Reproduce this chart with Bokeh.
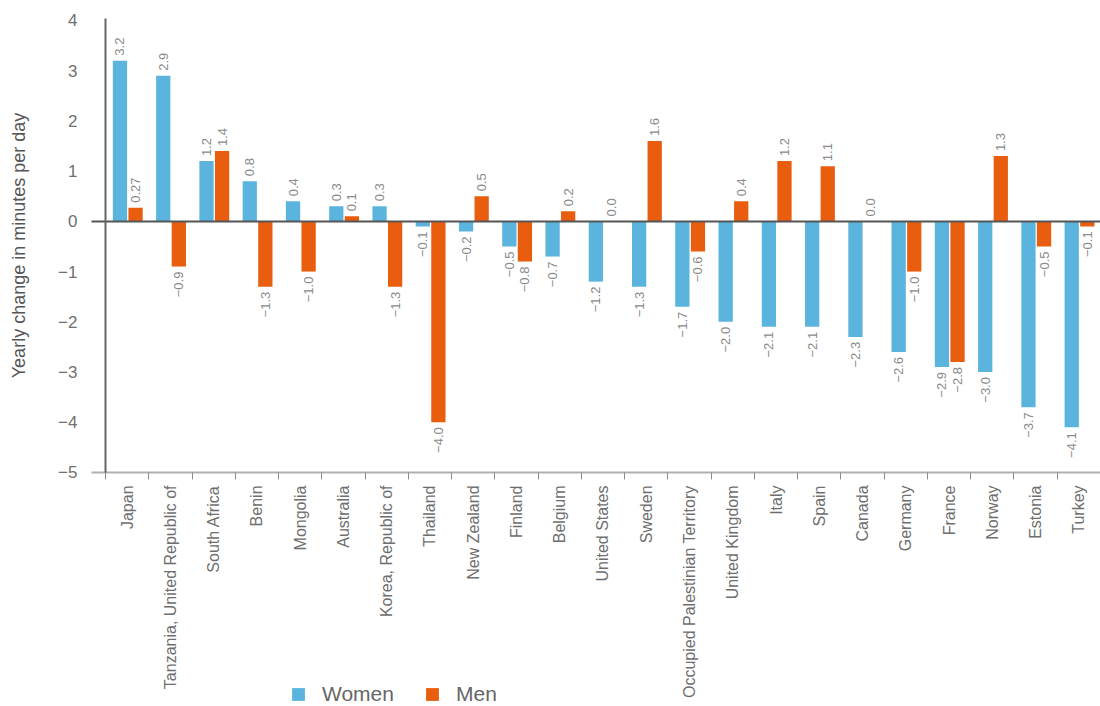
import numpy as np
from math import pi
from bokeh.plotting import figure
from bokeh.models import (Range1d, FixedTicker, Legend, LegendItem, LinearAxis,
                          ColumnDataSource, LabelSet)
from bokeh.core.properties import value
from bokeh.embed import file_html
from bokeh.resources import INLINE

# ---------------- data ----------------
countries = ["Japan", "Tanzania, United Republic of", "South Africa", "Benin",
             "Mongolia", "Australia", "Korea, Republic of", "Thailand",
             "New Zealand", "Finland", "Belgium", "United States", "Sweden",
             "Occupied Palestinian Territory", "United Kingdom", "Italy",
             "Spain", "Canada", "Germany", "France", "Norway", "Estonia",
             "Turkey"]
women = [3.2, 2.9, 1.2, 0.8, 0.4, 0.3, 0.3, -0.1, -0.2, -0.5, -0.7, -1.2,
         -1.3, -1.7, -2.0, -2.1, -2.1, -2.3, -2.6, -2.9, -3.0, -3.7, -4.1]
men = [0.27, -0.9, 1.4, -1.3, -1.0, 0.1, -1.3, -4.0, 0.5, -0.8, 0.2, 0.0,
       1.6, -0.6, 0.4, 1.2, 1.1, 0.0, -1.0, -2.8, 1.3, -0.5, -0.1]
y_ticks = [4, 3, 2, 1, 0, -1, -2, -3, -4, -5]
series_names = ["Women", "Men"]
y_label = "Yearly change in minutes per day"

# ---------------- style ----------------
WOMEN_COLOR = "#5bb4de"
MEN_COLOR = "#e85d0e"
FONT = "Liberation Sans"
N = len(countries)
Y_MIN, Y_MAX = -5, 4.04


def fmt(v):
    s = f"{v:.2f}" if abs(round(v, 1) - v) > 1e-9 else f"{v:.1f}"
    return s.replace("-", "\u2212")


p = figure(width=1100, height=706, output_backend="svg", toolbar_location=None,
           x_range=Range1d(-2.927, N - 0.5), y_range=Range1d(-9.66, 4.398),
           min_border_left=0, min_border_right=0, min_border_top=0,
           min_border_bottom=0)
p.outline_line_color = None
p.xgrid.visible = False
p.ygrid.visible = False
p.background_fill_color = "white"
p.border_fill_color = "white"

idx = np.arange(N)
offsets = [-0.165, 0.195]
colors = [WOMEN_COLOR, MEN_COLOR]
renderers = []
for name, vals, off, col in zip(series_names, [women, men], offsets, colors):
    vals = np.array(vals, dtype=float)
    src = ColumnDataSource(dict(x=idx + off, top=vals))
    r = p.vbar(x="x", top="top", bottom=0, width=0.33, source=src,
               fill_color=col, line_color=None)
    renderers.append((name, r))
    pos = vals >= 0
    neg = ~pos
    labels = [fmt(v) for v in vals]
    src_pos = ColumnDataSource(dict(x=(idx + off)[pos], y=vals[pos],
                                    t=[l for l, m in zip(labels, pos) if m]))
    src_neg = ColumnDataSource(dict(x=(idx + off)[neg], y=vals[neg],
                                    t=[l for l, m in zip(labels, neg) if m]))
    for s, align, yo in ((src_pos, "left", 5), (src_neg, "right", -5)):
        p.add_layout(LabelSet(x="x", y="y", text="t", source=s, angle=pi / 2,
                              text_align=align, text_baseline="middle",
                              y_offset=yo, text_font=value(FONT),
                              text_font_size="13px", text_color="#8a8a8a"))

# zero line as an unlabeled axis
zero_axis = LinearAxis(fixed_location=0, bounds=(-0.824, N - 0.5),
                       ticker=FixedTicker(ticks=[]),
                       axis_line_color="#555555", axis_line_width=2,
                       major_tick_line_color=None, minor_tick_line_color=None)
p.add_layout(zero_axis, "below")

# x axis
xa = p.xaxis[0]
xa.fixed_location = Y_MIN
xa.bounds = (-0.824, N - 0.5)
xa.ticker = FixedTicker(ticks=list(range(N)),
                        minor_ticks=[i - 0.5 for i in range(N + 1)])
xa.major_label_overrides = {i: c for i, c in enumerate(countries)}
xa.major_label_orientation = pi / 2
xa.major_tick_line_color = None
xa.major_tick_out = 0
xa.major_tick_in = 0
xa.minor_tick_out = 7
xa.minor_tick_in = 0
xa.minor_tick_line_color = "#8c8c8c"
xa.axis_line_color = "#b0b0b0"
xa.axis_line_width = 2
xa.major_label_standoff = 6
xa.major_label_text_font = FONT
xa.major_label_text_font_size = "16px"
xa.major_label_text_color = "#6e6e6e"

# y axis
ya = p.yaxis[0]
ya.fixed_location = -0.5
ya.bounds = (Y_MIN, Y_MAX)
ya.ticker = FixedTicker(ticks=y_ticks)
ya.major_label_overrides = {t: str(t).replace("-", "\u2212") for t in y_ticks}
ya.major_tick_line_color = None
ya.minor_tick_line_color = None
ya.major_tick_out = 0
ya.major_tick_in = 0
ya.axis_line_color = "#666666"
ya.axis_line_width = 2
ya.major_label_standoff = 28
ya.major_label_text_font = FONT
ya.major_label_text_font_size = "17px"
ya.major_label_text_color = "#707070"
ya.axis_label = y_label
ya.axis_label_text_font = FONT
ya.axis_label_text_font_size = "18px"
ya.axis_label_text_font_style = "normal"
ya.axis_label_text_color = "#555555"
ya.axis_label_standoff = 26

legend = Legend(items=[LegendItem(label=n, renderers=[r]) for n, r in renderers],
                orientation="horizontal", location=(290, 0),
                glyph_width=16, glyph_height=16, label_standoff=16, spacing=30,
                padding=0, margin=0, border_line_color=None,
                background_fill_alpha=0, label_text_font=FONT,
                label_text_font_size="21px", label_text_color="#666666")
p.add_layout(legend)

open("out.html", "w").write(file_html(p, INLINE))
